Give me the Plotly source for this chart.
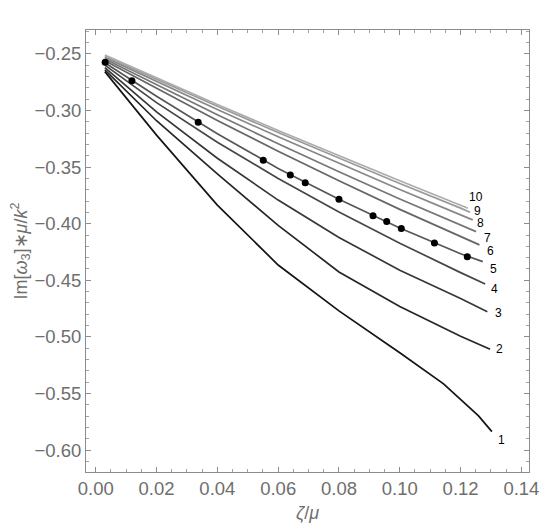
import plotly.graph_objects as go

# curve data, n = 1 .. 10 (zeta/mu, Im[w3]*mu/k^2)
x1 = [0.003, 0.02, 0.04, 0.06, 0.08, 0.10, 0.1144, 0.1259, 0.1303]
y1 = [-0.2656, -0.3217, -0.3835, -0.4365, -0.4770, -0.5140, -0.5415, -0.5698, -0.5837]

x2 = [0.003, 0.02, 0.04, 0.06, 0.08, 0.10, 0.12, 0.1297]
y2 = [-0.2640, -0.3090, -0.3560, -0.4015, -0.4426, -0.4731, -0.4995, -0.5109]

x3 = [0.003, 0.02, 0.04, 0.06, 0.08, 0.10, 0.12, 0.1288]
y3 = [-0.2620, -0.3011, -0.3421, -0.3791, -0.4121, -0.4411, -0.4661, -0.4777]

x4 = [0.003, 0.02, 0.04, 0.06, 0.08, 0.10, 0.12, 0.1281]
y4 = [-0.2598, -0.2930, -0.3280, -0.3600, -0.3896, -0.4172, -0.4432, -0.4533]

x5 = [0.003, 0.02, 0.04, 0.06, 0.08, 0.10, 0.12, 0.1273]
y5 = [-0.2578, -0.2874, -0.3204, -0.3511, -0.3784, -0.4037, -0.4266, -0.4335]

x6 = [0.003, 0.02, 0.04, 0.06, 0.08, 0.10, 0.12, 0.1262]
y6 = [-0.2560, -0.2805, -0.3087, -0.3359, -0.3621, -0.3873, -0.4115, -0.4187]

x7 = [0.003, 0.02, 0.04, 0.06, 0.08, 0.10, 0.12, 0.1251]
y7 = [-0.2545, -0.2773, -0.3037, -0.3293, -0.3541, -0.3781, -0.4013, -0.4070]

x8 = [0.003, 0.02, 0.04, 0.06, 0.08, 0.10, 0.12, 0.1240]
y8 = [-0.2530, -0.2744, -0.2990, -0.3232, -0.3468, -0.3698, -0.3922, -0.3966]

x9 = [0.003, 0.02, 0.04, 0.06, 0.08, 0.10, 0.12, 0.1231]
y9 = [-0.2520, -0.2726, -0.2962, -0.3194, -0.3422, -0.3644, -0.3862, -0.3898]

x10 = [0.003, 0.02, 0.04, 0.06, 0.08, 0.10, 0.12, 0.1224]
y10 = [-0.2510, -0.2712, -0.2946, -0.3176, -0.3400, -0.3620, -0.3836, -0.3863]

# black dots
dots_x = [0.0031, 0.0119, 0.0337, 0.0551, 0.0640, 0.0689, 0.0800, 0.0912, 0.0957, 0.1005, 0.1114, 0.1222]
dots_y = [-0.2573, -0.2736, -0.3103, -0.3439, -0.3569, -0.3637, -0.3784, -0.3930, -0.3981, -0.4043, -0.4170, -0.4291]

labels = ["1", "2", "3", "4", "5", "6", "7", "8", "9", "10"]
xs = [x1, x2, x3, x4, x5, x6, x7, x8, x9, x10]
ys = [y1, y2, y3, y4, y5, y6, y7, y8, y9, y10]

# label offsets in pixels from the curve end
label_shift = [(10, -8), (9, 0), (11, -1), (9, -5), (11, -7),
               (11, -6), (11, -6), (8, -3), (7, 1), (8, 11)]

grays = [20, 38, 54, 70, 86, 102, 118, 136, 154, 172]

fig = go.Figure()
for i in range(10):
    g = grays[i]
    fig.add_trace(go.Scatter(
        x=xs[i], y=ys[i], mode="lines",
        line=dict(color=f"rgb({g},{g},{g})", width=1.7),
        showlegend=False, hoverinfo="skip"))

fig.add_trace(go.Scatter(
    x=dots_x, y=dots_y, mode="markers",
    marker=dict(color="black", size=7), showlegend=False))

for i in range(10):
    dx, dy = label_shift[i]
    fig.add_annotation(x=xs[i][-1], y=ys[i][-1], text=labels[i],
                       showarrow=False, xshift=dx, yshift=dy,
                       font=dict(size=12, color="black", family="Liberation Sans, Arial"))

axis_style = dict(
    showgrid=False, zeroline=False, automargin=False,
    showline=True, linecolor="#8c8c8c", linewidth=1, mirror="ticks",
    ticks="inside", ticklen=5, tickcolor="#8c8c8c", tickwidth=1,
    tickfont=dict(size=18.5, color="#6e6e6e", family="Liberation Sans, Arial"),
)

fig.update_xaxes(
    range=[-0.0032, 0.1425], dtick=0.02, tick0=0, tickformat=".2f",
    minor=dict(dtick=0.005, ticks="inside", ticklen=3, tickcolor="#a0a0a0"),
    title=dict(text="<i>ζ</i>/<i>μ</i>", font=dict(size=18, color="#6e6e6e"), standoff=8),
    **axis_style)
fig.update_yaxes(
    range=[-0.6194, -0.2288], dtick=0.05, tick0=-0.25, tickformat=".2f",
    minor=dict(dtick=0.01, ticks="inside", ticklen=3, tickcolor="#a0a0a0"),
    title=dict(text="Im[<i>ω</i><sub>3</sub>]∗<i>μ</i>/<i>k</i><sup>2</sup>",
               font=dict(size=18, color="#6e6e6e"), standoff=4),
    **axis_style)

# page body has an 8px margin, so the figure is 8px smaller and margins shifted
fig.update_layout(
    width=552, height=522,
    margin=dict(l=78, r=31, t=22, b=58),
    plot_bgcolor="white", paper_bgcolor="white",
    font=dict(family="Liberation Sans, Arial"),
)

fig.write_html("out.html")
